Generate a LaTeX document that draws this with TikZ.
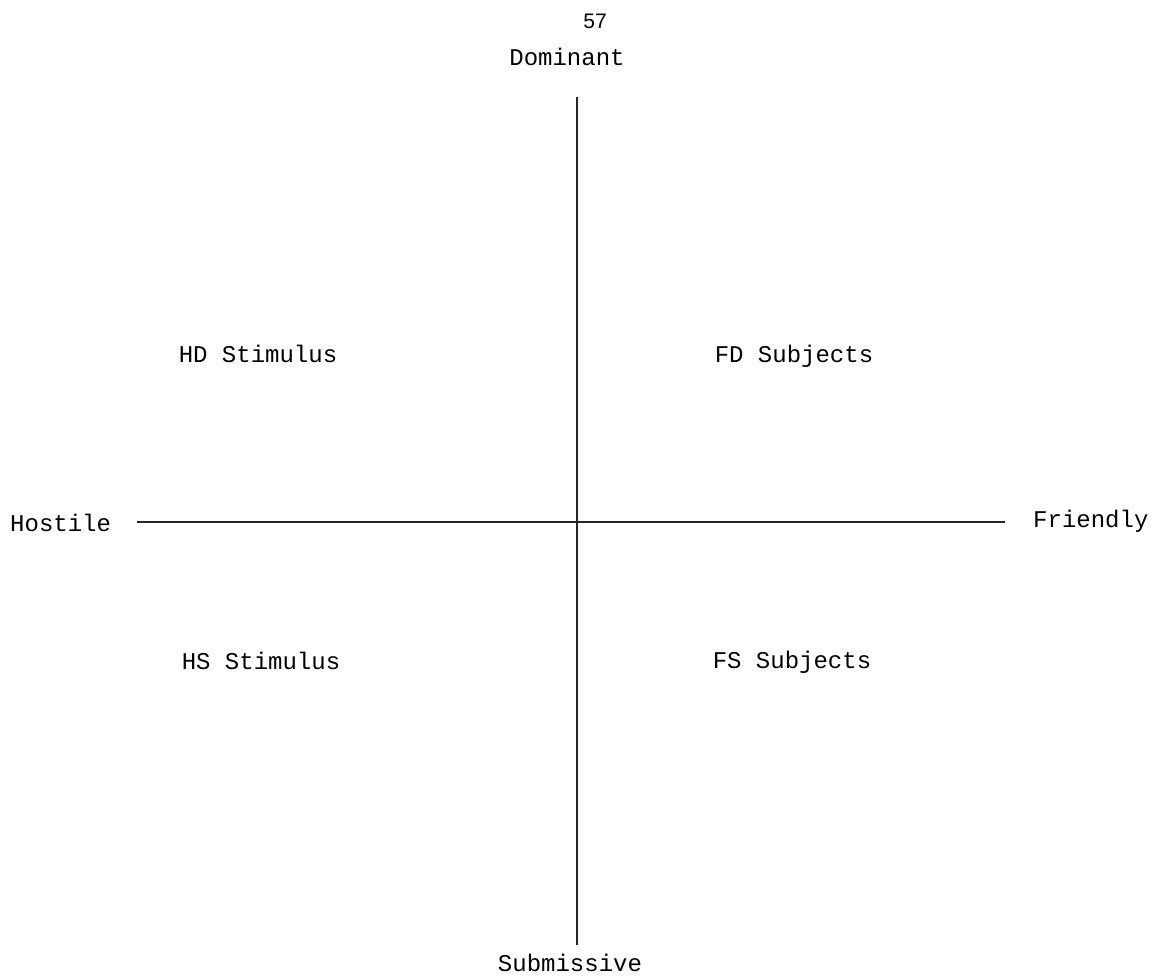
\documentclass[tikz,border=0pt]{standalone}
\usepackage{fontspec}
\setmainfont{Liberation Mono}
\newfontfamily\numfont{Liberation Sans}
\begin{document}
\begin{tikzpicture}[x=1pt,y=-1pt,
  lbl/.style={anchor=base,inner sep=0pt,font=\fontsize{24}{28}\selectfont},
  axis/.style={line width=1.6pt,draw=black!85}]
\useasboundingbox (0,0) rectangle (1154,975);
\node[anchor=base,inner sep=0pt,font=\numfont\fontsize{21}{24}\selectfont] (pg) at (595,28) {57};
\node[lbl] (dom) at (567,65) {Dominant};
\node[lbl] (sub) at (570,971) {Submissive};
\node[lbl,anchor=base west] (hos) at (10,531) {Hostile};
\node[lbl,anchor=base west] (fri) at (1033,527) {Friendly};
\node[lbl] (hd) at (258,362) {HD Stimulus};
\node[lbl] (fd) at (794,362) {FD Subjects};
\node[lbl] (hs) at (261,669) {HS Stimulus};
\node[lbl] (fs) at (792,668) {FS Subjects};
\coordinate (top) at (577,97);
\coordinate (bot) at (577,945);
\coordinate (lft) at (137,522);
\coordinate (rgt) at (1005,522);
\draw[axis] (top) -- (bot);
\draw[axis] (lft) -- (rgt);
\end{tikzpicture}
\end{document}
